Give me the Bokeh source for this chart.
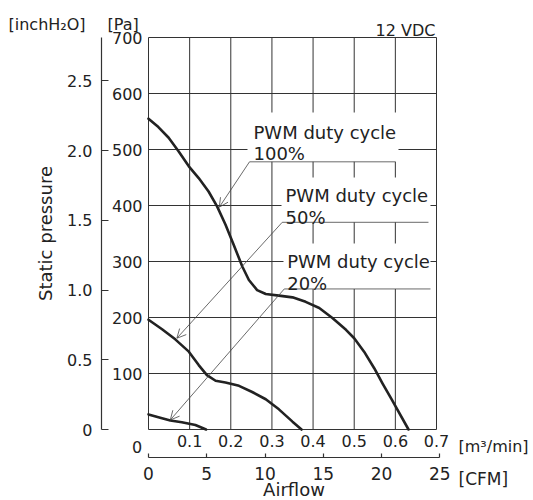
from bokeh.plotting import figure
from bokeh.models import (Range1d, LinearAxis, FixedTicker, Label, Arrow, OpenHead,
                          PrintfTickFormatter)
from bokeh.core.properties import value
from bokeh.embed import file_html
from bokeh.resources import INLINE

# ---- data ----
flow_100 = [0, 0.024, 0.049, 0.073, 0.098, 0.122, 0.146, 0.167, 0.187, 0.207, 0.228,
            0.244, 0.264, 0.285, 0.317, 0.350, 0.382, 0.415, 0.447, 0.480, 0.500,
            0.524, 0.549, 0.569, 0.590, 0.632]
pres_100 = [555, 540, 521, 497, 470, 449, 425, 398, 366, 330, 291,
            267, 249, 242, 239, 236, 228, 217, 199, 178, 163,
            139, 109, 82, 55, 0]

flow_50 = [0, 0.033, 0.065, 0.098, 0.122, 0.142, 0.163, 0.187, 0.220, 0.252, 0.285,
           0.317, 0.350, 0.372]
pres_50 = [196, 179, 161, 139, 115, 97, 87, 84, 78, 67, 54, 36, 14, 0]

flow_20 = [0, 0.024, 0.053, 0.081, 0.114, 0.140]
pres_20 = [27, 22, 16, 13, 8, 0]

pa_ticks = [0, 100, 200, 300, 400, 500, 600, 700]
flow_ticks = [0, 0.1, 0.2, 0.3, 0.4, 0.5, 0.6, 0.7]
inch_ticks = [0, 0.5, 1.0, 1.5, 2.0, 2.5]
cfm_ticks = [0, 5, 10, 15, 20, 25]

series_names = ["PWM duty cycle\n100%", "PWM duty cycle\n50%", "PWM duty cycle\n20%"]

PA_PER_INCH = 249.089
CFM_PER_M3MIN = 35.3147

# ---- layout (pixels) ----
W, H = 533, 500
FRAME_L, FRAME_T, FRAME_W, FRAME_H = 148, 37, 288, 392
XS = FRAME_W / 0.7          # px per m3/min
YS = FRAME_H / 700          # px per Pa
X0, X1 = -FRAME_L / XS, (W - FRAME_L) / XS
Y1 = 700 + FRAME_T / YS
Y0 = -(H - FRAME_T - FRAME_H) / YS

FONT = "DejaVu Sans"
INK = "#222222"
GRID = "#333333"
LEAD = "#444444"

p = figure(width=W, height=H, min_border=0,
           x_range=Range1d(X0, X1), y_range=Range1d(Y0, Y1),
           x_axis_type=None, y_axis_type=None,
           output_backend="svg", toolbar_location=None)
p.background_fill_color = "white"
p.border_fill_color = "white"
p.outline_line_color = None

p.extra_y_ranges = {"inch": Range1d(Y0 / PA_PER_INCH, Y1 / PA_PER_INCH)}
p.extra_x_ranges = {"cfm": Range1d(X0 * CFM_PER_M3MIN, X1 * CFM_PER_M3MIN)}

# grid + frame
p.segment(x0=flow_ticks, y0=[pa_ticks[0]] * len(flow_ticks),
          x1=flow_ticks, y1=[pa_ticks[-1]] * len(flow_ticks),
          line_color=GRID, line_width=1)
p.segment(x0=[flow_ticks[0]] * len(pa_ticks), y0=pa_ticks,
          x1=[flow_ticks[-1]] * len(pa_ticks), y1=pa_ticks,
          line_color=GRID, line_width=1)

def style_labels(ax, size="16px"):
    ax.major_label_text_font = FONT
    ax.major_label_text_font_size = size
    ax.major_label_text_color = INK
    ax.minor_tick_line_color = None

# Pa axis (tick labels next to the frame)
pa = LinearAxis(ticker=FixedTicker(ticks=pa_ticks), fixed_location=0)
pa.major_label_overrides = {0: ""}
pa.axis_line_color = None
pa.major_tick_line_color = None
pa.major_tick_in = 0
pa.major_tick_out = 0
pa.major_label_standoff = 6
style_labels(pa)
p.add_layout(pa, "left")

# inchH2O axis (outer left)
inch = LinearAxis(y_range_name="inch", ticker=FixedTicker(ticks=inch_ticks),
                  formatter=PrintfTickFormatter(format="%.1f"),
                  fixed_location=(101 - FRAME_L) / XS, bounds=(0, 700 / PA_PER_INCH))
inch.major_label_overrides = {0: "0"}
inch.axis_line_color = GRID
inch.axis_line_width = 1.2
inch.major_tick_line_color = GRID
inch.major_tick_line_width = 1.2
inch.major_tick_in = 7
inch.major_tick_out = 0
inch.major_label_standoff = 9
style_labels(inch)
inch.axis_label = "Static pressure"
inch.axis_label_text_font = FONT
inch.axis_label_text_font_size = "18px"
inch.axis_label_text_font_style = "normal"
inch.axis_label_text_color = INK
inch.axis_label_standoff = 8
p.add_layout(inch, "left")

# m3/min axis (below the frame)
fx = LinearAxis(ticker=FixedTicker(ticks=flow_ticks), fixed_location=0)
fx.major_label_overrides = {0: ""}
fx.axis_line_color = None
fx.major_tick_line_color = None
fx.major_tick_in = 0
fx.major_tick_out = 0
fx.major_label_standoff = 5
style_labels(fx)
p.add_layout(fx, "below")

# CFM axis (outer below)
cfm = LinearAxis(x_range_name="cfm", ticker=FixedTicker(ticks=cfm_ticks),
                 fixed_location=-(457 - FRAME_T - FRAME_H) / YS, bounds=(0, 25))
cfm.axis_line_color = GRID
cfm.axis_line_width = 1.2
cfm.major_tick_line_color = GRID
cfm.major_tick_line_width = 1.2
cfm.major_tick_in = 4
cfm.major_tick_out = 0
cfm.major_label_standoff = 9
style_labels(cfm, "17px")
cfm.axis_label = "Airflow"
cfm.axis_label_text_font = FONT
cfm.axis_label_text_font_size = "18px"
cfm.axis_label_text_font_style = "normal"
cfm.axis_label_text_color = INK
cfm.axis_label_standoff = -4
p.add_layout(cfm, "below")

# white boxes behind the series labels
box_left = [0.2406, 0.3233, 0.3281]
box_right = [0.6076, 0.6854, 0.6854]
box_top = [566, 450, 332]
box_bottom = [478, 370, 251]
p.quad(left=box_left, right=box_right, top=box_top, bottom=box_bottom,
       fill_color="white", line_color=None)

# curves
for fl, pr in ((flow_100, pres_100), (flow_50, pres_50), (flow_20, pres_20)):
    p.line(fl, pr, line_width=2.6, line_color=INK, line_join="round", line_cap="round")

# leader lines + arrows
lead_x0 = [0.2455, 0.3250, 0.3300]
lead_x1 = [0.6003, 0.6805, 0.6854]
lead_y = [478, 370, 251]
tip_x = [0.172, 0.069, 0.053]
tip_y = [397, 163, 17]
p.segment(x0=lead_x0, y0=lead_y, x1=lead_x1, y1=lead_y, line_width=0.8, line_color=LEAD)
for i in range(3):
    p.add_layout(Arrow(end=OpenHead(size=9, line_width=0.8, line_color=LEAD),
                       x_start=lead_x0[i], y_start=lead_y[i], x_end=tip_x[i], y_end=tip_y[i],
                       line_width=0.8, line_color=LEAD))

# series label texts
text_x = [0.2552, 0.3330, 0.3371]
text_y1 = [530.4, 417.9, 300.5]
text_y2 = [492.9, 379.1, 260.2]
lines1 = [s.split("\n")[0] for s in series_names]
lines2 = [s.split("\n")[1] for s in series_names]
p.text(x=text_x + text_x, y=text_y1 + text_y2, text=lines1 + lines2,
       text_font=value(FONT), text_font_size="18px", text_color=INK,
       text_baseline="alphabetic", text_align="left")

# captions around the frame (pixel anchors converted to data units)
def lab(px, py, t, size="16px", align="left"):
    p.add_layout(Label(x=(px - FRAME_L) / XS, y=(FRAME_T + FRAME_H - py) / YS,
                       text=t, text_font=FONT, text_font_size=size, text_color=INK,
                       text_baseline="alphabetic", text_align=align))

lab(8, 23.5, "[inchH₂O]")
lab(107, 23.5, "[Pa]")
lab(435, 30, "12 VDC", align="right")
lab(458, 446, "[m³/min]")
lab(458, 478.5, "[CFM]", size="17px")
lab(141.7, 446, "0", align="right")

open("out.html", "w").write(file_html(p, INLINE))
